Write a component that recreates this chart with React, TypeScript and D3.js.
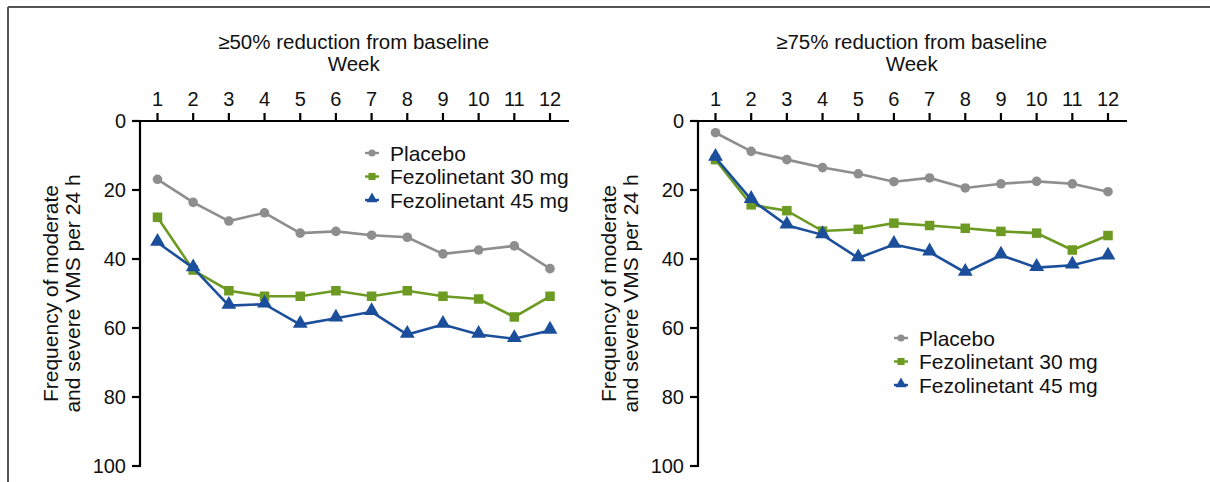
import React from 'react';
import * as d3 from 'd3';

const weeks = [1, 2, 3, 4, 5, 6, 7, 8, 9, 10, 11, 12];
const yTicks = [0, 20, 40, 60, 80, 100];
const seriesNames = ['Placebo', 'Fezolinetant 30 mg', 'Fezolinetant 45 mg'];

// ≥50% reduction panel
const placebo50 = [16.9, 23.6, 29.0, 26.6, 32.5, 32.0, 33.1, 33.7, 38.5, 37.4, 36.2, 42.8];
const fez30_50 = [27.9, 43.2, 49.2, 50.8, 50.8, 49.2, 50.8, 49.2, 50.8, 51.6, 56.8, 50.8];
const fez45_50 = [35.2, 42.6, 53.5, 53.1, 59.0, 57.2, 55.3, 61.9, 59.0, 61.9, 63.1, 60.7];

// ≥75% reduction panel
const placebo75 = [3.4, 8.8, 11.2, 13.5, 15.3, 17.6, 16.5, 19.4, 18.2, 17.5, 18.2, 20.5];
const fez30_75 = [11.2, 24.3, 26.0, 31.9, 31.4, 29.6, 30.3, 31.1, 32.0, 32.5, 37.4, 33.2];
const fez45_75 = [10.6, 22.8, 30.2, 33.0, 39.7, 35.8, 38.0, 43.9, 38.9, 42.5, 41.8, 39.2];

const colors = ['#8e8e8e', '#6c9a22', '#1b4f9b'];
const font = '"Liberation Sans", Arial, sans-serif';

const Marker = ({ kind, x, y, small }) => {
  const k = small ? 0.75 : 1;
  if (kind === 0) return <circle cx={x} cy={y} r={4.8 * k} fill={colors[0]} />;
  if (kind === 1) {
    const s = 9.5 * k;
    return <rect x={x - s / 2} y={y - s / 2} width={s} height={s} fill={colors[1]} />;
  }
  const tri = d3.symbol().type(d3.symbolTriangle).size(95 * k * k)();
  return <path d={tri} transform={`translate(${x},${y - 1})`} fill={colors[2]} />;
};

const Panel = ({ left, title, series, legendX, legendY }) => {
  const axisX = left;
  const x = d3.scaleLinear().domain([1, 12]).range([left + 17.5, left + 410]);
  const y = d3.scaleLinear().domain([0, 100]).range([121, 466]);
  const line = d3.line<number>()
    .x((d, i) => x(weeks[i]))
    .y(d => y(d));
  const xEnd = x(12) + 19;
  const cx = (x(1) + x(12)) / 2;

  return (
    <g fontFamily={font} fill="#111">
      <text x={cx} y={49} textAnchor="middle" fontSize={20.5}>{title}</text>
      <text x={cx} y={71} textAnchor="middle" fontSize={20.5}>Week</text>

      {/* x axis along the top */}
      <line x1={axisX - 8} x2={xEnd} y1={y(0)} y2={y(0)} stroke="#000" strokeWidth={2.2} />
      {weeks.map(w => (
        <g key={w}>
          <line x1={x(w)} x2={x(w)} y1={y(0)} y2={y(0) - 8} stroke="#000" strokeWidth={2.2} />
          <text x={x(w)} y={106} textAnchor="middle" fontSize={20}>{w}</text>
        </g>
      ))}

      {/* y axis */}
      <line x1={axisX} x2={axisX} y1={y(0) - 1} y2={y(100) + 1} stroke="#000" strokeWidth={2.2} />
      {yTicks.map(t => (
        <g key={t}>
          <line x1={axisX - 8} x2={axisX} y1={y(t)} y2={y(t)} stroke="#000" strokeWidth={2.2} />
          <text x={axisX - 14} y={y(t)} dy="0.36em" textAnchor="end" fontSize={20}>{t}</text>
        </g>
      ))}
      <text transform={`translate(${axisX - 82},${(y(0) + y(100)) / 2}) rotate(-90)`} textAnchor="middle" fontSize={21}>
        <tspan x={0} y={0}>Frequency of moderate</tspan>
        <tspan x={0} y={22}>and severe VMS per 24 h</tspan>
      </text>

      {series.map((vals, si) => (
        <g key={si}>
          <path d={line(vals)} fill="none" stroke={colors[si]} strokeWidth={2.6} />
          {vals.map((v, i) => <Marker key={i} kind={si} x={x(weeks[i])} y={y(v)} />)}
        </g>
      ))}

      {seriesNames.map((name, si) => {
        const ly = legendY + si * 23.5;
        return (
          <g key={name}>
            <line x1={legendX - 7} x2={legendX + 7} y1={ly} y2={ly} stroke={colors[si]} strokeWidth={2.4} />
            <Marker kind={si} x={legendX} y={ly} small />
            <text x={legendX + 18} y={ly} dy="0.36em" fontSize={21}>{name}</text>
          </g>
        );
      })}
    </g>
  );
};

export default function App() {
  return (
    <svg width={1210} height={482} style={{ position: 'absolute', left: 0, top: 0, background: '#fff' }}>
      <rect x={0} y={0} width={1210} height={482} fill="#fff" />
      <line x1={8} x2={1210} y1={7} y2={7} stroke="#555" strokeWidth={2} />
      <line x1={8} x2={8} y1={7} y2={482} stroke="#555" strokeWidth={2} />
      <Panel left={140} title="≥50% reduction from baseline"
        series={[placebo50, fez30_50, fez45_50]} legendX={372} legendY={153} />
      <Panel left={698} title="≥75% reduction from baseline"
        series={[placebo75, fez30_75, fez45_75]} legendX={901} legendY={338} />
    </svg>
  );
}
